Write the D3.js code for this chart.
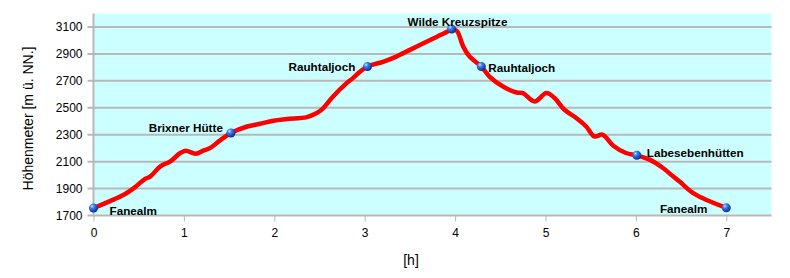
<!DOCTYPE html>
<html>
<head>
<meta charset="utf-8">
<script src="https://cdn.jsdelivr.net/npm/d3@7"></script>
<style>
  body { margin: 0; background: #fff; }
  text { font-family: "Liberation Sans", Arial, sans-serif; }
</style>
</head>
<body>
<div id="chart"></div>
<script>
// Profile of the tour: walking time [h] vs. elevation [m]
const hours = [0, 0.34, 0.45, 0.56, 0.63, 0.74, 0.85, 0.96, 1.02, 1.13, 1.22, 1.29, 1.40, 1.52,
  1.70, 1.84, 1.99, 2.14, 2.36, 2.47, 2.53, 2.65, 2.80, 2.87, 2.95, 3.03, 3.21, 3.35, 3.50,
  3.65, 3.80, 3.91, 3.96, 4.02, 4.09, 4.16, 4.29, 4.38, 4.53, 4.68, 4.75, 4.88, 5.01, 5.10,
  5.21, 5.34, 5.45, 5.54, 5.63, 5.75, 5.89, 6.01, 6.15, 6.30, 6.41, 6.48, 6.63, 6.77, 7.0];
const elevation = [1755, 1856, 1905, 1967, 1991, 2065, 2102, 2164, 2181, 2159, 2184, 2201, 2258, 2313,
  2361, 2381, 2404, 2416, 2431, 2461, 2490, 2584, 2683, 2720, 2769, 2806, 2843, 2880, 2930,
  2979, 3028, 3065, 3085, 3070, 2954, 2880, 2806, 2732, 2658, 2613, 2609, 2547, 2609, 2572,
  2485, 2424, 2361, 2287, 2300, 2218, 2164, 2147, 2115, 2053, 1991, 1954, 1868, 1819, 1757];

const waypointNames = ["Fanealm", "Brixner Hütte", "Rauhtaljoch", "Wilde Kreuzspitze",
  "Rauhtaljoch", "Labesebenhütten", "Fanealm"];
const waypointHours = [0, 1.52, 3.03, 3.96, 4.29, 6.01, 7.0];
const waypointElevation = [1755, 2313, 2806, 3085, 2806, 2147, 1757];

const xTicks = [0, 1, 2, 3, 4, 5, 6, 7];
const yTicks = [1700, 1900, 2100, 2300, 2500, 2700, 2900, 3100];

// Label placement relative to the marker
const labelPlacement = [
  { anchor: "start", dx: 16, dy: 7 },
  { anchor: "end", dx: -8, dy: -1 },
  { anchor: "end", dx: -12, dy: 4 },
  { anchor: "middle", dx: 6, dy: -3 },
  { anchor: "start", dx: 7, dy: 5 },
  { anchor: "start", dx: 10, dy: 2 },
  { anchor: "end", dx: -19, dy: 5 }
];

const width = 790, height = 278;

const svg = d3.select("#chart").append("svg")
  .attr("width", width)
  .attr("height", height);

const x = d3.scaleLinear().domain([0, 7.5]).range([93.5, 771.5]);
const y = d3.scaleLinear().domain([1700, 3200]).range([215.5, 13.5]);

// Sphere gradient for markers
const defs = svg.append("defs");
const grad = defs.append("radialGradient")
  .attr("id", "sphere")
  .attr("cx", "35%").attr("cy", "30%").attr("r", "70%");
grad.append("stop").attr("offset", "0%").attr("stop-color", "#bfe0ff");
grad.append("stop").attr("offset", "35%").attr("stop-color", "#3b7be8");
grad.append("stop").attr("offset", "100%").attr("stop-color", "#0a2a9a");

// Plot background
svg.append("rect")
  .attr("x", x(0))
  .attr("y", y(3200))
  .attr("width", x(7.5) - x(0))
  .attr("height", y(1700) - y(3200))
  .attr("fill", "#ccffff");

// Horizontal grid lines (with little tick stubs to the left)
svg.append("g")
  .selectAll("line")
  .data(yTicks)
  .join("line")
  .attr("x1", x(0) - 6)
  .attr("x2", x(7.5))
  .attr("y1", (d) => y(d))
  .attr("y2", (d) => y(d))
  .attr("stroke", "#b8b8b8")
  .attr("stroke-width", 2);

// Axis line
svg.append("line")
  .attr("x1", x(0)).attr("x2", x(0))
  .attr("y1", y(3200)).attr("y2", y(1700) + 1)
  .attr("stroke", "#b8b8b8").attr("stroke-width", 2);

// Y axis labels
const yAxis = svg.append("g")
  .attr("transform", `translate(${x(0) - 9},0)`)
  .call(d3.axisLeft(y).tickValues(yTicks).tickSize(0).tickPadding(2).tickFormat(d3.format("d")));
yAxis.select(".domain").remove();
yAxis.selectAll("text")
  .attr("font-family", "Liberation Sans, Arial, sans-serif")
  .attr("font-size", 12)
  .attr("fill", "#000");

// X axis
const xAxis = svg.append("g")
  .attr("transform", `translate(0,${y(1700)})`)
  .call(d3.axisBottom(x).tickValues(xTicks).tickSize(6).tickPadding(7).tickFormat(d3.format("d")));
xAxis.select(".domain").remove();
xAxis.selectAll("line").attr("stroke", "#b8b8b8").attr("stroke-width", 1);
xAxis.selectAll("text")
  .attr("font-family", "Liberation Sans, Arial, sans-serif")
  .attr("font-size", 12)
  .attr("fill", "#000");

// Axis titles
svg.append("text")
  .attr("transform", `translate(33,${(y(3200) + y(1700)) / 2})`)
  .attr("transform", `translate(33,${(y(3200) + y(1700)) / 2 + 4}) rotate(-90)`)
  .attr("text-anchor", "middle")
  .attr("font-size", 14)
  .text("Höhenmeter [m ü. NN.]");

svg.append("text")
  .attr("x", 411)
  .attr("y", 265)
  .attr("text-anchor", "middle")
  .attr("font-size", 14)
  .text("[h]");

// Profile line
const line = d3.line()
  .x((d) => x(d[0]))
  .y((d) => y(d[1]))
  .curve(d3.curveCatmullRom.alpha(0.5));

svg.append("path")
  .datum(hours.map((h, i) => [h, elevation[i]]))
  .attr("fill", "none")
  .attr("stroke", "#ff0000")
  .attr("stroke-width", 4.5)
  .attr("stroke-linejoin", "round")
  .attr("stroke-linecap", "round")
  .attr("d", line);

// Waypoints
const waypoints = waypointNames.map((name, i) => ({
  name, h: waypointHours[i], e: waypointElevation[i], p: labelPlacement[i]
}));

svg.append("g")
  .selectAll("circle")
  .data(waypoints)
  .join("circle")
  .attr("cx", (d) => x(d.h))
  .attr("cy", (d) => y(d.e))
  .attr("r", 4.5)
  .attr("fill", "url(#sphere)");

svg.append("g")
  .selectAll("text")
  .data(waypoints)
  .join("text")
  .attr("x", (d) => x(d.h) + d.p.dx)
  .attr("y", (d) => y(d.e) + d.p.dy)
  .attr("text-anchor", (d) => d.p.anchor)
  .attr("font-size", 11.7)
  .attr("font-weight", "bold")
  .text((d) => d.name);
</script>
</body>
</html>
